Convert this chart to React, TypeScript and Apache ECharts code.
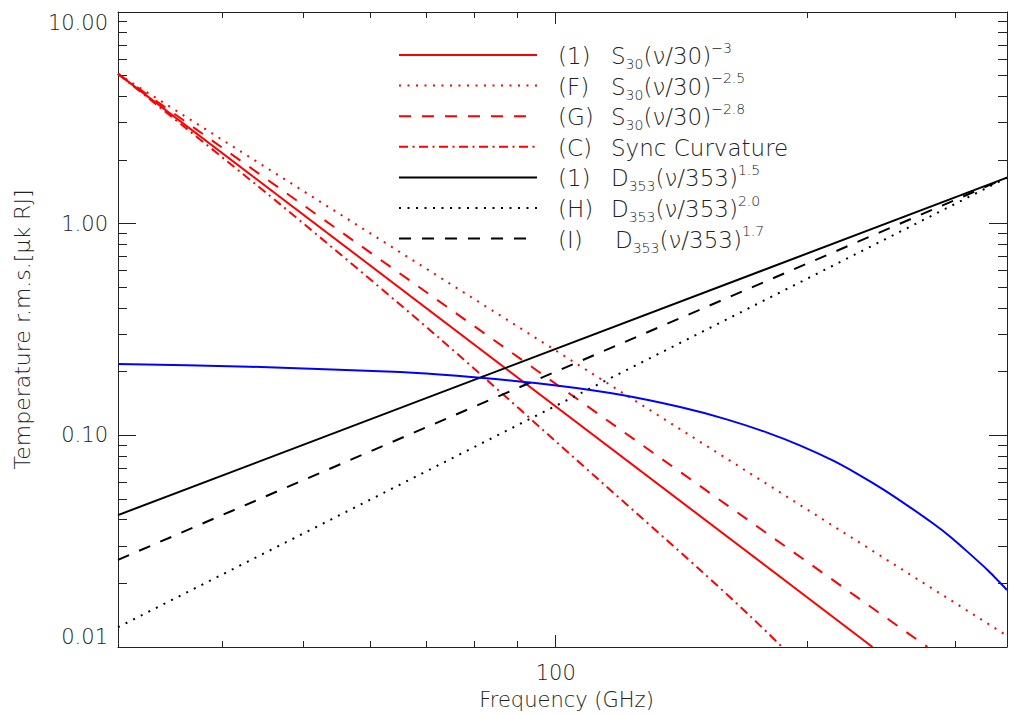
import React, { useEffect, useRef } from 'react';
import * as echarts from 'echarts';

// ---- axis ranges and ticks ----
const xRange = [30, 346];
const yRange = [0.01, 10];
const xMajorTicks = [100];
const xMinorTicks = [40, 50, 60, 70, 80, 90, 200, 300];
const yMajorTicks = [0.01, 0.1, 1, 10];
const yMinorTicks = [
  0.02, 0.03, 0.04, 0.05, 0.06, 0.07, 0.08, 0.09,
  0.2, 0.3, 0.4, 0.5, 0.6, 0.7, 0.8, 0.9,
  2, 3, 4, 5, 6, 7, 8, 9,
];

// ---- series values (frequency GHz, temperature) ----
const sync1 = [[30, 5.1], [239, 0.01]];
const syncF = [[30, 5.1], [346, 0.0113]];
const syncG = [[30, 5.1], [278, 0.01]];
const syncC = [[30, 5.1], [46.8, 1.24], [72.8, 0.285], [112, 0.0628], [148.8, 0.0231], [170.7, 0.014], [186.4, 0.01]];
const dust1 = [[30, 0.042], [346, 1.65]];
const dustH = [[30, 0.0124], [346, 1.65]];
const dustI = [[30, 0.0258], [346, 1.65]];
const cmb = [
  [30, 0.217], [43.1, 0.211], [65.2, 0.199], [81.2, 0.187], [101.3, 0.171],
  [120, 0.155], [140.8, 0.136], [160, 0.119], [178.9, 0.103], [196, 0.0894],
  [214.5, 0.0759], [230, 0.0653], [246.1, 0.0556], [264, 0.0462], [282.4, 0.0383],
  [296, 0.0332], [310, 0.0283], [328, 0.0231], [346, 0.0186],
];

// legend labels
const legendTags = ['(1)', '(F)', '(G)', '(C)', '(1)', '(H)', '(I)'];
const legendFormulas = [
  'S{sub|30}(ν/30){sup|−3}',
  'S{sub|30}(ν/30){sup|−2.5}',
  'S{sub|30}(ν/30){sup|−2.8}',
  'Sync Curvature',
  'D{sub|353}(ν/353){sup|1.5}',
  'D{sub|353}(ν/353){sup|2.0}',
  'D{sub|353}(ν/353){sup|1.7}',
];

const FONT = '"DejaVu Sans", "Liberation Sans", sans-serif';
const WEIGHT = 200;
const AXIS_COLOR = '#222';
const TEXT_COLOR = '#222';

const DOT = [2, 6.5];
const DASH = [12, 11];
const DASHDOT = [9, 4.5, 2, 4.5];

const lineSeries = [
  { name: 'sync1', data: sync1, color: '#ff0000', dash: 'solid' as any, smooth: false },
  { name: 'syncF', data: syncF, color: '#ff0000', dash: DOT, smooth: false },
  { name: 'syncG', data: syncG, color: '#ff0000', dash: DASH, smooth: false },
  { name: 'syncC', data: syncC, color: '#ff0000', dash: DASHDOT, smooth: true },
  { name: 'dust1', data: dust1, color: '#000000', dash: 'solid' as any, smooth: false },
  { name: 'dustH', data: dustH, color: '#000000', dash: DOT, smooth: false },
  { name: 'dustI', data: dustI, color: '#000000', dash: DASH, smooth: false },
];

export default function App() {
  const ref = useRef<HTMLDivElement>(null);

  useEffect(() => {
    if (!ref.current) return;
    const chart = echarts.init(ref.current, undefined, { renderer: 'svg' });

    const tickStyle = { color: AXIS_COLOR, width: 1 };
    const mkX = (position: string, ticks: number[], len: number, withLabel: boolean, withLine: boolean, extra: any = {}) => ({
      type: 'log',
      logBase: 10,
      gridIndex: 0,
      position,
      min: xRange[0],
      max: xRange[1],
      axisLine: { show: withLine, onZero: false, lineStyle: { color: AXIS_COLOR, width: 1 } },
      axisTick: { show: true, inside: true, length: len, customValues: ticks, lineStyle: tickStyle },
      axisLabel: withLabel
        ? {
            show: true,
            customValues: ticks,
            formatter: (v: number) => String(Math.round(v)),
            margin: 15,
            fontSize: 21,
            fontWeight: WEIGHT,
            fontFamily: FONT,
            color: TEXT_COLOR,
          }
        : { show: false },
      splitLine: { show: false },
      minorTick: { show: false },
      ...extra,
    });
    const mkY = (position: string, ticks: number[], len: number, withLabel: boolean, withLine: boolean, extra: any = {}) => ({
      type: 'log',
      logBase: 10,
      gridIndex: 0,
      position,
      min: yRange[0],
      max: yRange[1],
      axisLine: { show: withLine, onZero: false, lineStyle: { color: AXIS_COLOR, width: 1 } },
      axisTick: { show: true, inside: true, length: len, customValues: ticks, lineStyle: tickStyle },
      axisLabel: withLabel
        ? {
            show: true,
            customValues: ticks,
            formatter: (v: number) => v.toFixed(2),
            margin: 10,
            fontSize: 21,
            fontWeight: WEIGHT,
            fontFamily: FONT,
            color: TEXT_COLOR,
            verticalAlignMinLabel: 'bottom',
            verticalAlignMaxLabel: 'top',
          }
        : { show: false },
      splitLine: { show: false },
      minorTick: { show: false },
      ...extra,
    });

    const legendX1 = 399;
    const legendX2 = 537;
    const legendTop = 55;
    const legendStep = 30.6;
    const graphics: any[] = [];
    lineSeries.forEach((s, i) => {
      const y = legendTop + i * legendStep;
      graphics.push({
        type: 'line',
        shape: { x1: legendX1, y1: y, x2: legendX2, y2: y },
        style: {
          stroke: s.color,
          lineWidth: 2,
          lineDash: Array.isArray(s.dash) ? s.dash : null,
        },
        z: 100,
      });
      graphics.push({
        type: 'text',
        x: 558,
        y: y + 1,
        style: {
          text: legendTags[i],
          fontSize: 23,
          fontWeight: WEIGHT,
          fontFamily: FONT,
          fill: TEXT_COLOR,
          verticalAlign: 'middle',
          align: 'left',
        },
        z: 100,
      });
      graphics.push({
        type: 'text',
        x: legendTags[i] === '(I)' ? 615 : 611,
        y: y + 1,
        style: {
          text: legendFormulas[i],
          fontSize: 23,
          fontWeight: WEIGHT,
          fontFamily: FONT,
          fill: TEXT_COLOR,
          verticalAlign: 'middle',
          align: 'left',
          rich: {
            sub: { fontSize: 14, fontWeight: WEIGHT, fontFamily: FONT, fill: TEXT_COLOR, padding: [16, 0, 0, 0] },
            sup: { fontSize: 14, fontWeight: WEIGHT, fontFamily: FONT, fill: TEXT_COLOR, padding: [0, 0, 17, 0] },
          },
        },
        z: 100,
      });
    });

    const option: any = {
      animation: false,
      backgroundColor: '#ffffff',
      grid: { left: 118, right: 3, top: 12, bottom: 66, containLabel: false },
      xAxis: [
        mkX('bottom', xMajorTicks, 12, true, true, {
          name: 'Frequency (GHz)',
          nameLocation: 'middle',
          nameGap: 42,
          nameTextStyle: { fontSize: 21, fontWeight: WEIGHT, fontFamily: FONT, color: TEXT_COLOR, padding: [0, 0, 0, 8] },
        }),
        mkX('bottom', xMinorTicks, 6, false, false),
        mkX('top', xMajorTicks, 12, false, true),
        mkX('top', xMinorTicks, 6, false, false),
      ],
      yAxis: [
        mkY('left', yMajorTicks, 18, true, true, {
          name: 'Temperature r.m.s.[μk RJ]',
          nameLocation: 'middle',
          nameGap: 85,
          nameRotate: 90,
          nameTextStyle: { fontSize: 22, fontWeight: WEIGHT, fontFamily: FONT, color: TEXT_COLOR },
        }),
        mkY('left', yMinorTicks, 9, false, false),
        mkY('right', yMajorTicks, 18, false, true),
        mkY('right', yMinorTicks, 9, false, false),
      ],
      series: [
        ...lineSeries.map((s) => ({
          type: 'line',
          name: s.name,
          xAxisIndex: 0,
          yAxisIndex: 0,
          data: s.data,
          showSymbol: false,
          symbol: 'none',
          smooth: s.smooth ? 0.3 : false,
          lineStyle: { color: s.color, width: 2, type: s.dash },
          clip: true,
          z: 3,
        })),
        {
          type: 'line',
          name: 'cmb',
          xAxisIndex: 0,
          yAxisIndex: 0,
          data: cmb,
          showSymbol: false,
          symbol: 'none',
          smooth: 0.2,
          lineStyle: { color: '#0000ff', width: 2 },
          clip: true,
          z: 4,
        },
      ],
      graphic: graphics,
    };

    chart.setOption(option);
    return () => chart.dispose();
  }, []);

  return (
    <div
      ref={ref}
      style={{ position: 'fixed', left: 0, top: 0, width: 1010, height: 715, background: '#fff' }}
    />
  );
}
